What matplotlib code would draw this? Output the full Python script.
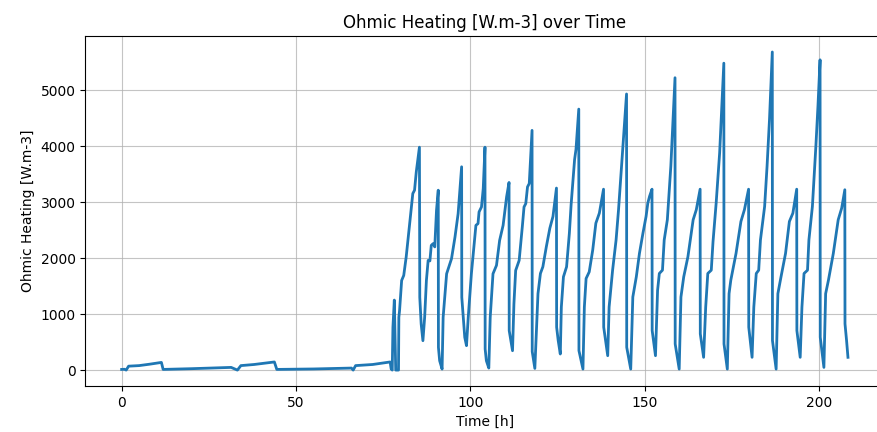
import matplotlib
matplotlib.use("Agg")
import matplotlib.pyplot as plt
import numpy as np

# Time [h] and ohmic heating [W.m-3]
time_h = [
    0, 0.8, 1.3, 2.0, 5, 8, 11.4, 11.9, 20, 31.4, 33.2, 34.2, 38, 43.8, 44.5,
    55, 65.9, 66.4, 67.1, 72, 77.0, 77.3, 77.6, 77.8, 78.2, 78.6, 79.4,
    79.5, 79.7, 80.3, 80.9, 81.6, 82.5, 83.5, 84.0, 84.5, 85.4, 85.5, 85.9, 86.4,
    86.9, 87.4, 87.9, 88.4, 88.8, 89.3, 89.8, 90.3, 90.8, 90.85, 91.2, 91.9,
    92.2, 93.2, 94.6, 95.6, 96.5, 97.5, 97.55, 98.4, 98.9,
    99.4, 100.3, 101.3, 101.6, 102.2, 102.5, 103.2, 103.7, 104.2, 104.25, 104.6, 105.3,
    105.7, 106.5, 107.5, 108.4, 109.4, 110.4, 111.1, 111.15, 112.1,
    112.5, 113.0, 114.0, 114.9, 115.4, 115.9, 116.4, 116.9, 117.7, 117.75, 118.5,
    119.4, 120.1, 120.8, 121.8, 122.8, 123.7, 124.7, 124.75, 125.2, 125.8,
    126.1, 126.7, 127.6, 128.4, 128.9, 129.9, 130.3, 131.1, 131.15, 132.3,
    132.7, 133.2, 134.1, 135.1, 136.0, 137.0, 138.2, 138.25, 139.4,
    139.8, 140.8, 141.8, 142.5, 143.7, 144.8, 144.85, 146.0,
    146.6, 147.6, 148.5, 149.5, 150.4, 150.9, 151.4, 152.1, 152.15, 153.1,
    153.7, 154.2, 155.1, 155.6, 156.5, 157.5, 158.7, 158.75, 159.9,
    160.4, 161.2, 162.4, 163.9, 164.8, 165.9, 165.95, 166.9,
    167.5, 168.1, 169.1, 169.6, 170.5, 171.5, 172.7, 172.75, 173.7,
    174.2, 174.7, 176.2, 177.6, 178.6, 179.8, 179.85, 180.8,
    181.3, 182.0, 182.7, 183.2, 184.4, 185.1, 185.8, 186.6, 186.65, 187.7,
    188.2, 189.1, 190.4, 191.5, 192.5, 193.6, 193.65, 194.6,
    195.1, 195.7, 196.7, 197.1, 198.1, 199.1, 199.7, 200.3, 200.35, 201.4,
    201.9, 202.7, 204.1, 205.5, 206.5, 207.4, 207.45, 207.9, 208.3,
]
ohmic_heating = [
    12, 15, 0, 70, 80, 105, 137, 12, 25, 48, 0, 80, 100, 145, 12,
    20, 36, 0, 80, 100, 145, 20, 0, 764, 1250, 0, 0,
    943, 1060, 1600, 1690, 2018, 2555, 3152, 3212, 3540, 3980, 1300, 824, 525,
    943, 1600, 1958, 1950, 2227, 2257, 2200, 2854, 3212, 406, 167, 18,
    943, 1720, 1988, 2376, 2794, 3630, 1300, 585, 436,
    943, 1720, 2376, 2585, 2615, 2824, 2913, 3242, 3980, 376, 167, 36,
    943, 1720, 1870, 2316, 2585, 3093, 3350, 704, 346,
    1182, 1779, 1958, 2555, 2913, 2973, 3271, 3331, 4280, 330, 30,
    1365, 1725, 1844, 2204, 2533, 2743, 3250, 766, 527, 287,
    1126, 1665, 1844, 2443, 2952, 3760, 3940, 4660, 347, 18,
    1126, 1635, 1754, 2144, 2623, 2802, 3230, 766, 257,
    1126, 1784, 2323, 2862, 3940, 4930, 407, 18,
    1305, 1665, 2084, 2443, 2743, 2982, 3102, 3230, 706, 257,
    1425, 1725, 1784, 2323, 2683, 3641, 5220, 467, 18,
    1305, 1665, 2024, 2683, 2862, 3230, 647, 228,
    1126, 1725, 1784, 2293, 2982, 3880, 5480, 467, 18,
    1365, 1605, 2084, 2653, 2862, 3230, 766, 228,
    1126, 1725, 1784, 2323, 2922, 3641, 4479, 5680, 527, 18,
    1365, 1665, 2084, 2653, 2802, 3230, 706, 228,
    1126, 1725, 1784, 2323, 2922, 4000, 4719, 5540, 587, 48,
    1365, 1605, 2084, 2683, 2892, 3220, 826, 527, 228,
]

fig = plt.figure(figsize=(8.77, 4.32), dpi=100)
# axes run slightly past the right edge of the figure, as in the reference
ax = fig.add_axes([0.0973, 0.1065, 0.911, 0.810])

ax.plot(np.array(time_h), np.array(ohmic_heating), linewidth=2)
ax.set_title("Ohmic Heating [W.m-3] over Time")
ax.set_xlabel("Time [h]")
ax.set_ylabel("Ohmic Heating [W.m-3]")
ax.grid(True, alpha=0.75)

fig.savefig("out.png", dpi=100)
